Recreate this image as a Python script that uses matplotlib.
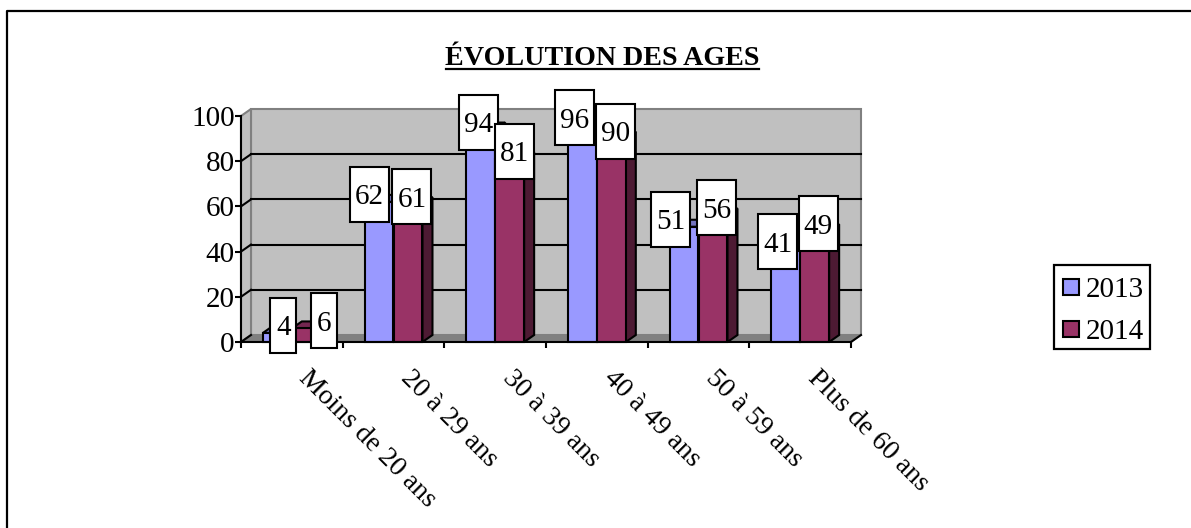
import matplotlib
matplotlib.use('Agg')
import matplotlib.pyplot as plt
from matplotlib.patches import Polygon, Rectangle
from matplotlib.transforms import IdentityTransform

plt.rcParams['font.family'] = ['Liberation Serif', 'DejaVu Serif']

categories = ['Moins de 20 ans', '20 à 29 ans', '30 à 39 ans', '40 à 49 ans', '50 à 59 ans', 'Plus de 60 ans']
values_2013 = [4, 62, 94, 96, 51, 41]
values_2014 = [6, 61, 81, 90, 56, 49]
y_ticks = [0, 20, 40, 60, 80, 100]

# label boxes were moved by hand in the original, x shift in pixels
shift_2013 = [6, -9.5, -2.5, -7.5, -13.5, -8]
shift_2014 = [18, 4, 4.5, 4.5, 4, 3.5]

W, H = 1191, 528
BAR_W = 0.285
DX = 10 / 610 * 6   # depth of the 3d effect in data units
DY = 7 / 226 * 100
BLACK_LW = 1.5
FS = 21

COL_2013 = '#9999ff'
COL_2013_TOP = '#7373bf'
COL_2014 = '#993366'
COL_2014_TOP = '#732650'
COL_2014_SIDE = '#4d1a33'
COL_2013_SIDE = '#4d4d80'

fig = plt.figure(figsize=(W / 100, H / 100), dpi=100)

# page frame, only top and left are on the page
fig.add_artist(plt.Line2D([7 / W, 7 / W, 1], [0, 1 - 11 / H, 1 - 11 / H], color='black', lw=1.6))

ax = fig.add_axes([241 / W, 1 - 342 / H, 610 / W, 226 / H])
ax.set_xlim(0, 6)
ax.set_ylim(0, 100)
ax.patch.set_visible(False)


def poly(pts, fc, ec='black', lw=BLACK_LW, z=2):
    ax.add_patch(Polygon(pts, closed=True, fc=fc, ec=ec, lw=lw, zorder=z, clip_on=False, joinstyle='miter'))


# walls
poly([(DX, DY), (6 + DX, DY), (6 + DX, 100 + DY), (DX, 100 + DY)], '#c0c0c0', ec='#808080', lw=1.5, z=1)
poly([(0, 0), (DX, DY), (DX, 100 + DY), (0, 100)], '#c0c0c0', ec='#808080', lw=1.5, z=1)
poly([(0, 0), (6, 0), (6 + DX, DY), (DX, DY)], '#808080', ec='#808080', lw=1, z=1)

for t in y_ticks[1:-1]:
    ax.plot([DX, 6 + DX], [t + DY, t + DY], color='black', lw=BLACK_LW, zorder=1.5, clip_on=False)
for t in y_ticks[:-1]:
    ax.plot([0, DX], [t, t + DY], color='black', lw=BLACK_LW, zorder=1.5, clip_on=False)
ax.plot([6, 6 + DX], [0, DY], color='black', lw=BLACK_LW, zorder=1.5, clip_on=False)


def draw_bar(x0, v, face, top, side):
    x1 = x0 + BAR_W
    poly([(x1, 0), (x1 + DX, DY), (x1 + DX, v + DY), (x1, v)], side, z=3)
    poly([(x0, v), (x1, v), (x1 + DX, v + DY), (x0 + DX, v + DY)], top, z=3)
    ax.add_patch(Rectangle((x0, 0), BAR_W, v, fc=face, ec='black', lw=BLACK_LW, zorder=3, clip_on=False))


for i in range(len(categories)):
    c = i + 0.5
    draw_bar(c - BAR_W, values_2013[i], COL_2013, COL_2013_TOP, COL_2013_SIDE)
    draw_bar(c, values_2014[i], COL_2014, COL_2014_TOP, COL_2014_SIDE)


def value_label(x, v, shift, w_box):
    # box centred on the top back edge of the bar
    cx, cy = ax.transData.transform((x, v))
    cx += shift
    cy += 7.5
    ax.add_artist(Rectangle((cx - w_box / 2, cy - 27.5), w_box, 55, transform=IdentityTransform(),
                            fc='white', ec='black', lw=BLACK_LW, zorder=6, clip_on=False))
    ax.text(cx, cy, str(v), transform=IdentityTransform(), ha='center', va='center_baseline',
            fontsize=FS, zorder=7, clip_on=False)


for i in range(len(categories)):
    c = i + 0.5
    w = 26 if i == 0 else 39
    value_label(c - BAR_W / 2, values_2013[i], shift_2013[i], w)
    value_label(c + BAR_W / 2, values_2014[i], shift_2014[i], w)

ax.set_xticks(range(7))
ax.set_xticklabels([])
ax.set_yticks(y_ticks)
ax.set_yticklabels([str(t) for t in y_ticks], fontsize=FS)
ax.tick_params(axis='both', width=BLACK_LW, length=4.5, color='black', pad=0)
for s in ['top', 'right']:
    ax.spines[s].set_visible(False)
for s in ['left', 'bottom']:
    ax.spines[s].set_linewidth(BLACK_LW)
    ax.spines[s].set_zorder(4)

for i, name in enumerate(categories):
    ax.annotate(name, (i + 0.5, 0), xytext=(8, -23), textcoords='offset points', rotation=-45,
                rotation_mode='anchor', ha='left', va='center', fontsize=20, annotation_clip=False)

# title, underline drawn by hand
fig.text(602.5 / W, 1 - 65 / H, 'ÉVOLUTION DES AGES', ha='center', va='baseline', fontsize=20.2, fontweight='bold')
fig.add_artist(plt.Line2D([446 / W, 759 / W], [1 - 69 / H, 1 - 69 / H], color='black', lw=1.6))

# legend
fig.add_artist(Rectangle((1054 / W, 1 - 349 / H), 96 / W, 84 / H, transform=fig.transFigure,
                         fc='white', ec='black', lw=1.6))
for name, col, y in [('2013', COL_2013, 287), ('2014', COL_2014, 329)]:
    fig.add_artist(Rectangle((1063 / W, 1 - (y + 8) / H), 16 / W, 16 / H, transform=fig.transFigure,
                             fc=col, ec='black', lw=1.5))
    fig.text(1086 / W, 1 - y / H, name, ha='left', va='center_baseline', fontsize=FS)

fig.savefig('out.png', dpi=100)
